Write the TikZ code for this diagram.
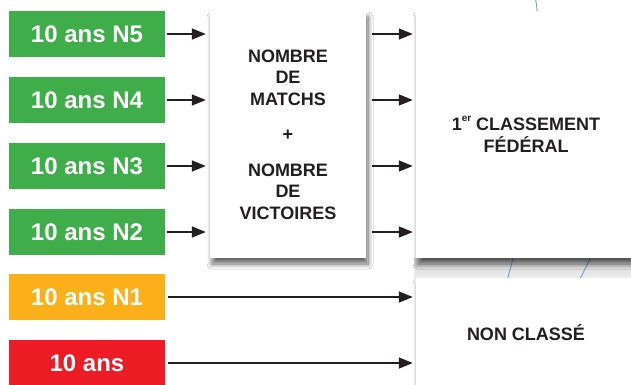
\documentclass[tikz,border=0pt]{standalone}
\usepackage{fontspec}
\setmainfont{Liberation Sans}
\usetikzlibrary{arrows.meta,shadows.blur,calc}
\definecolor{cgreen}{RGB}{62,173,74}
\definecolor{corange}{RGB}{251,176,26}
\definecolor{cred}{RGB}{237,28,36}
\definecolor{ctext}{RGB}{35,31,32}
\definecolor{cblue}{RGB}{95,150,205}
\tikzset{
  lvl/.style={fill=#1, draw=none, minimum width=156pt, minimum height=46pt, inner sep=0pt,
    text=white, font=\fontsize{24}{28}\selectfont\bfseries},
  wbox/.style={fill=white, draw=none, inner sep=0pt, text=ctext,
    font=\fontsize{18}{21.5}\selectfont\bfseries, align=center,
    blur shadow={shadow xshift=2pt, shadow yshift=-6pt, shadow blur radius=5pt, shadow blur steps=10, shadow opacity=60}},
  arr/.style={draw=ctext, line width=1.4pt, -{Triangle[length=14pt,width=11pt]}},
  deco/.style={draw=cblue, line width=0.8pt}
}
\begin{document}
\begin{tikzpicture}[x=1pt,y=-1pt]
\useasboundingbox (0,0) rectangle (631,384);
\clip (0,0) rectangle (631,384);
\fill[white] (0,0) rectangle (631,384);
% light band between the right boxes
\shade[top color=gray!35, bottom color=gray!12] (414,258) rectangle (631,279);
% decorative background lines
\draw[deco] (535.5,-2) .. controls (536.5,5) .. (537.5,14);
\draw[deco] (514,255) -- (507,281);
\draw[deco] (592,255) -- (579,281);
% left level boxes
\node[lvl=cgreen] (n5) at (87,34) {10 ans N5};
\node[lvl=cgreen] (n4) at (87,100) {10 ans N4};
\node[lvl=cgreen] (n3) at (87,166) {10 ans N3};
\node[lvl=cgreen] (n2) at (87,232) {10 ans N2};
\node[lvl=corange] (n1) at (87,297) {10 ans N1};
\node[lvl=cred] (n0) at (87,363) {10 ans};
% white boxes
\node[wbox, minimum width=156pt, minimum height=247pt] (mid) at (288,134.5)
  {NOMBRE\\DE\\MATCHS\\[14pt]+\\[14pt]NOMBRE\\DE\\VICTOIRES};
\node[wbox, minimum width=220pt, minimum height=247pt] (r1) at (526,134.5)
  {1\raisebox{0.5em}{\fontsize{10}{10}\selectfont er} CLASSEMENT\\FÉDÉRAL};
\node[wbox, minimum width=220pt, minimum height=110pt] (r2) at (526,333) {NON CLASSÉ};
% arrows
\foreach \n in {n5,n4,n3,n2}{
  \draw[arr, shorten <=2pt, shorten >=4pt] (\n.east) -- (\n.east -| mid.west);
  \draw[arr, shorten <=6pt, shorten >=3pt] (\n.east -| mid.east) -- (\n.east -| r1.west);
}
\draw[arr, shorten <=3pt, shorten >=3pt] (n1.east) -- (n1.east -| r2.west);
\draw[arr, shorten <=3pt, shorten >=3pt] (n0.east) -- (n0.east -| r2.west);
\end{tikzpicture}
\end{document}
